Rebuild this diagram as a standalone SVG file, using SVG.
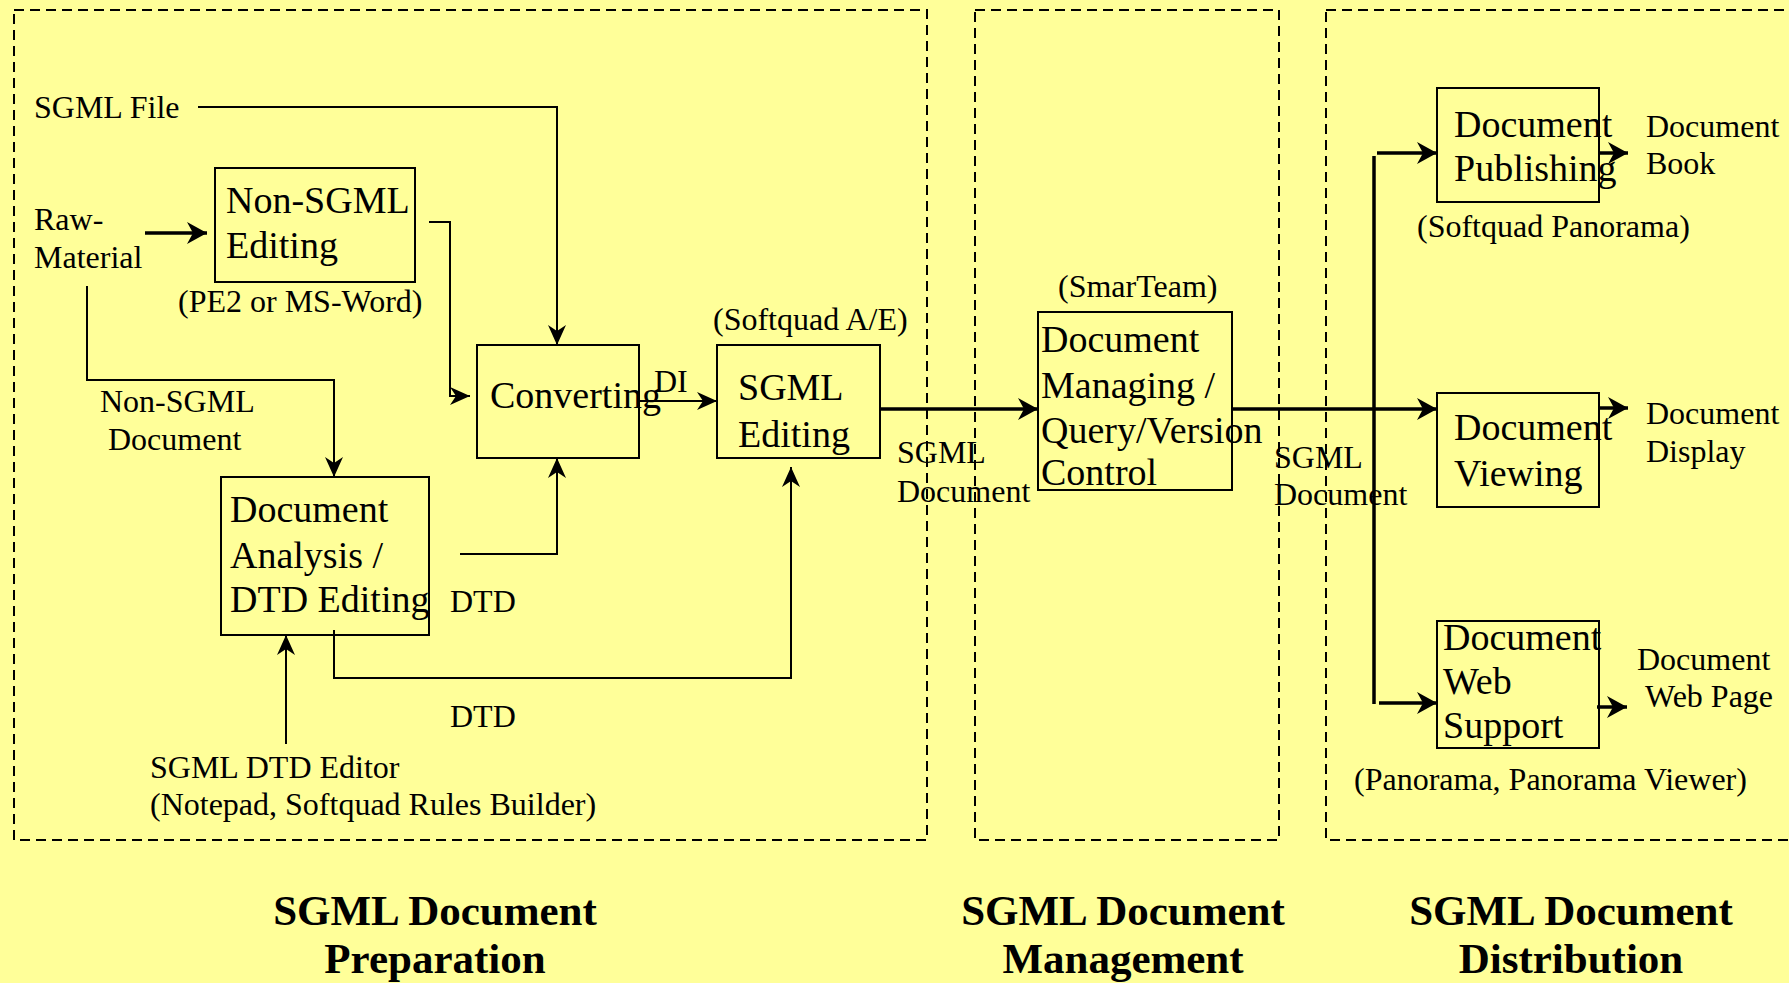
<svg xmlns="http://www.w3.org/2000/svg" width="1789" height="983" viewBox="0 0 1789 983">
<style>
.lbl{font-family:"Liberation Serif","Times New Roman",serif;font-size:32px;fill:#000}
.box{fill:none;stroke:#000;stroke-width:2}
.bt{font-family:"Liberation Serif","Times New Roman",serif;font-size:38px;fill:#000}
.ttl{font-family:"Liberation Serif","Times New Roman",serif;font-size:43px;font-weight:bold;fill:#000;text-anchor:middle}
.dash{fill:none;stroke:#000;stroke-width:2;stroke-dasharray:10 6}
.thin{fill:none;stroke:#000;stroke-width:2}
.thick{fill:none;stroke:#000;stroke-width:3.5}
</style>
<defs>
<marker id="a" viewBox="0 0 20 20" refX="20" refY="10" markerWidth="20" markerHeight="20" markerUnits="userSpaceOnUse" orient="auto">
<path d="M0,1 L20,10 L0,19 L6,10 z" fill="#000"/>
</marker>
<marker id="b" viewBox="0 0 20 22" refX="20" refY="11" markerWidth="20" markerHeight="22" markerUnits="userSpaceOnUse" orient="auto">
<path d="M0,0 L20,11 L0,22 L6,11 z" fill="#000"/>
</marker>
</defs>
<rect width="1789" height="983" fill="#FFFF99"/>

<g id="panels">
<rect class="dash" x="14" y="10" width="913" height="830"/>
<rect class="dash" x="975" y="10" width="304" height="830"/>
<rect class="dash" x="1326" y="10" width="480" height="830"/>
</g>

<g id="connectors">
<path class="thin" d="M198,107 H557 V345" marker-end="url(#a)"/>
<path class="thick" d="M145,233 H207" marker-end="url(#b)"/>
<path class="thin" d="M429,222 H450 V396 H470" marker-end="url(#a)"/>
<path class="thin" d="M87,286 V380 H334 V477" marker-end="url(#a)"/>
<path class="thin" d="M460,554 H557 V458" marker-end="url(#a)"/>
<path class="thin" d="M334,630 V678 H791 V467" marker-end="url(#a)"/>
<path class="thin" d="M286,744 V635" stroke-width="2.5" marker-end="url(#a)"/>
<path class="thin" d="M639,401 H717" marker-end="url(#a)"/>
<path class="thick" d="M880,409 H1038" marker-end="url(#b)"/>
<path class="thick" d="M1232,409 H1437" marker-end="url(#b)"/>
<path class="thick" d="M1374,156 V704"/>
<path class="thick" d="M1377,153 H1437" marker-end="url(#b)"/>
<path class="thick" d="M1379,703 H1437" marker-end="url(#b)"/>
<path class="thick" d="M1599,153 H1628" marker-end="url(#b)"/>
<path class="thick" d="M1599,408 H1628" marker-end="url(#b)"/>
<path class="thick" d="M1597,707 H1627" marker-end="url(#b)"/>
</g>

<g id="inputs">
<text class="lbl" x="34" y="118">SGML File</text>
<text class="lbl" x="34" y="230">Raw-</text>
<text class="lbl" x="34" y="268">Material</text>
<text class="lbl" x="100" y="412">Non-SGML</text>
<text class="lbl" x="108" y="450">Document</text>
<text class="lbl" x="450" y="612">DTD</text>
<text class="lbl" x="450" y="727">DTD</text>
<text class="lbl" x="654" y="392">DI</text>
<text class="lbl" x="150" y="778">SGML DTD Editor</text>
<text class="lbl" x="150" y="815">(Notepad, Softquad Rules Builder)</text>
<text class="lbl" x="897" y="463">SGML</text>
<text class="lbl" x="897" y="502">Document</text>
<text class="lbl" x="1274" y="468">SGML</text>
<text class="lbl" x="1274" y="505">Document</text>
</g>

<g id="nonsgml-editing">
<rect class="box" x="215" y="168" width="200" height="114"/>
<text class="bt" x="226" y="213">Non-SGML</text>
<text class="bt" x="226" y="258">Editing</text>
<text class="lbl" x="178" y="312">(PE2 or MS-Word)</text>
</g>

<g id="converting">
<rect class="box" x="477" y="345" width="162" height="113"/>
<text class="bt" x="490" y="408">Converting</text>
</g>

<g id="sgml-editing">
<rect class="box" x="717" y="345" width="163" height="113"/>
<text class="bt" x="738" y="400">SGML</text>
<text class="bt" x="738" y="447">Editing</text>
<text class="lbl" x="713" y="330">(Softquad A/E)</text>
</g>

<g id="doc-analysis">
<rect class="box" x="221" y="477" width="208" height="158"/>
<text class="bt" x="230" y="522">Document</text>
<text class="bt" x="230" y="568">Analysis /</text>
<text class="bt" x="230" y="612">DTD Editing</text>
</g>

<g id="doc-managing">
<rect class="box" x="1038" y="312" width="194" height="178"/>
<text class="bt" x="1041" y="352">Document</text>
<text class="bt" x="1041" y="398">Managing /</text>
<text class="bt" x="1041" y="443">Query/Version</text>
<text class="bt" x="1041" y="485">Control</text>
<text class="lbl" x="1058" y="297">(SmarTeam)</text>
</g>

<g id="doc-publishing">
<rect class="box" x="1437" y="88" width="162" height="114"/>
<text class="bt" x="1454" y="137">Document</text>
<text class="bt" x="1454" y="181">Publishing</text>
<text class="lbl" x="1646" y="137">Document</text>
<text class="lbl" x="1646" y="174">Book</text>
<text class="lbl" x="1417" y="237">(Softquad Panorama)</text>
</g>

<g id="doc-viewing">
<rect class="box" x="1437" y="393" width="162" height="114"/>
<text class="bt" x="1454" y="440">Document</text>
<text class="bt" x="1454" y="486">Viewing</text>
<text class="lbl" x="1646" y="424">Document</text>
<text class="lbl" x="1646" y="462">Display</text>
</g>

<g id="doc-web">
<rect class="box" x="1437" y="621" width="162" height="127"/>
<text class="bt" x="1443" y="650">Document</text>
<text class="bt" x="1443" y="694">Web</text>
<text class="bt" x="1443" y="738">Support</text>
<text class="lbl" x="1637" y="670">Document</text>
<text class="lbl" x="1645" y="707">Web Page</text>
<text class="lbl" x="1354" y="790">(Panorama, Panorama Viewer)</text>
</g>

<g id="titles">
<text class="ttl" x="435" y="925">SGML Document</text>
<text class="ttl" x="435" y="973">Preparation</text>
<text class="ttl" x="1123" y="925">SGML Document</text>
<text class="ttl" x="1123" y="973">Management</text>
<text class="ttl" x="1571" y="925">SGML Document</text>
<text class="ttl" x="1571" y="973">Distribution</text>
</g>
</svg>
